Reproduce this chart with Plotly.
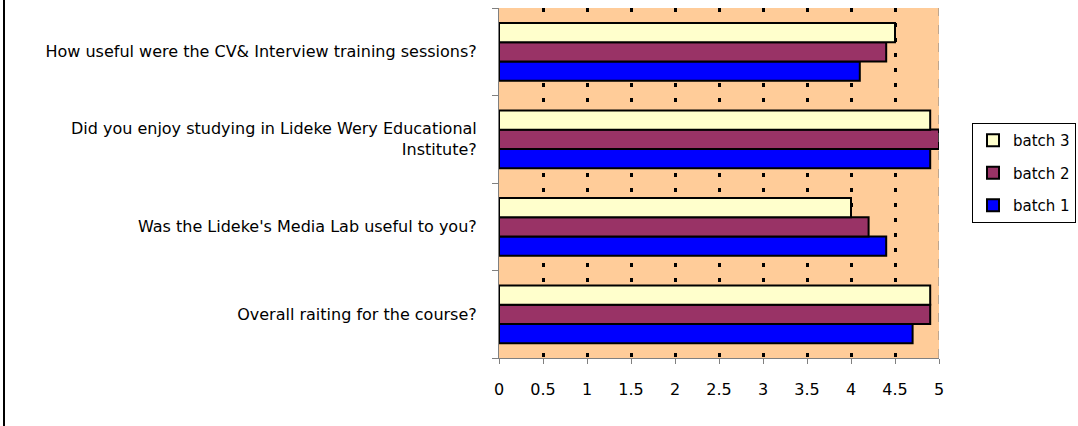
import plotly.graph_objects as go

questions = [
    "Overall raiting for the course?",
    "Was the Lideke's Media Lab useful to you?",
    "Did you enjoy studying in Lideke Wery Educational<br>Institute?",
    "How useful were the CV& Interview training sessions?",
]
batch1 = [4.7, 4.4, 4.9, 4.1]
batch2 = [4.9, 4.2, 5.0, 4.4]
batch3 = [4.9, 4.0, 4.9, 4.5]
series_names = ["batch 1", "batch 2", "batch 3"]
colors = ["#0000FF", "#993366", "#FFFFCC"]
legend_ranks = [3, 2, 1]
x_ticks = [0, 0.5, 1, 1.5, 2, 2.5, 3, 3.5, 4, 4.5, 5]
x_tick_text = ["0", "0.5", "1", "1.5", "2", "2.5", "3", "3.5", "4", "4.5", "5"]

FONT = "DejaVu Sans"

fig = go.Figure()
for name, vals, col, rk in zip(series_names, [batch1, batch2, batch3], colors, legend_ranks):
    fig.add_trace(go.Bar(
        y=questions, x=vals, name=name, orientation="h", legendgroup=name,
        legendrank=rk,
        marker=dict(color=col, line=dict(color="black", width=2)),
    ))

W, H = 1078, 426
L, R, T, B = 499, 139, 8, 68
pw = W - L - R
ph = H - T - B

fig.update_layout(
    width=W, height=H,
    margin=dict(l=L, r=R, t=T, b=B, pad=0, autoexpand=False),
    barmode="group", bargap=0.34, bargroupgap=0,
    plot_bgcolor="#FFCC99", paper_bgcolor="white",
    font=dict(family=FONT, size=16, color="black"),
    showlegend=True,
    legend=dict(
        traceorder="grouped", x=(972 - L) / pw, y=1 - (123 - T) / ph,
        xanchor="left", yanchor="top",
        bordercolor="black", borderwidth=1, bgcolor="white",
        font=dict(family=FONT, size=15), itemwidth=30, tracegroupgap=10,
    ),
    xaxis=dict(
        range=[0, 5], tickvals=x_ticks, ticktext=x_tick_text,
        showgrid=False, zeroline=False,
        showline=True, linecolor="#808080", linewidth=1,
        ticks="outside", ticklen=5, tickcolor="#808080",
        ticklabelstandoff=12,
        minor=dict(tickvals=x_ticks[1:-1], showgrid=True, gridcolor="black",
                   gridwidth=3, griddash="4px,11px"),
    ),
    yaxis=dict(
        categoryorder="array", categoryarray=questions,
        showline=True, linecolor="#808080", linewidth=1,
        ticks="outside", ticklen=6, tickcolor="#808080", tickson="boundaries",
        ticklabelstandoff=18, showgrid=False,
    ),
    shapes=[
        dict(type="line", xref="x", yref="paper", x0=5, x1=5, y0=0, y1=1,
             line=dict(color="#808080", width=1, dash="dash")),
        dict(type="line", xref="paper", yref="paper",
             x0=-(L - 4) / pw, x1=-(L - 4) / pw, y0=-B / ph, y1=1 + T / ph,
             line=dict(color="black", width=2)),
    ],
)

fig.write_html("out.html")
